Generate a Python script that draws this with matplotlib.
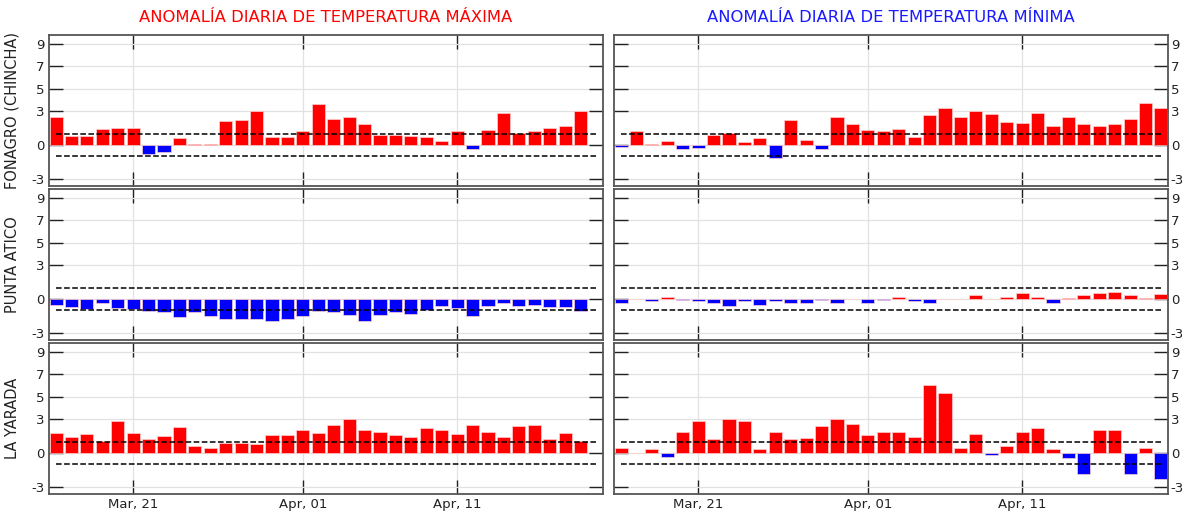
import matplotlib
matplotlib.use("Agg")
import matplotlib.pyplot as plt
import matplotlib.dates as mdates
import numpy as np
import pandas as pd

plt.rcParams["axes.unicode_minus"] = False

# Data (daily anomalies, degC)
dates = pd.date_range("2024-03-16", "2024-04-20", freq="D")
stations = ["FONAGRO (CHINCHA)", "PUNTA ATICO", "LA YARADA"]

# max temperature anomaly (last day not available)
tmax_fonagro = [2.52, 0.84, 0.84, 1.44, 1.53, 1.53, -0.84, -0.63, 0.63, 0.09, 0.09, 2.13,
                2.25, 3.06, 0.72, 0.72, 1.26, 3.66, 2.31, 2.46, 1.86, 0.93, 0.93, 0.84,
                0.72, 0.33, 1.26, -0.36, 1.32, 2.88, 1.11, 1.26, 1.53, 1.71, 3.06]
tmax_atico = [-0.57, -0.72, -0.90, -0.39, -0.78, -0.90, -1.11, -1.20, -1.59, -1.20, -1.53, -1.74,
              -1.74, -1.74, -1.92, -1.74, -1.53, -1.11, -1.20, -1.38, -1.92, -1.38, -1.20, -1.32,
              -0.99, -0.60, -0.78, -1.53, -0.60, -0.39, -0.60, -0.51, -0.72, -0.72, -1.11]
tmax_yarada = [1.80, 1.41, 1.68, 1.11, 2.88, 1.80, 1.26, 1.50, 2.28, 0.66, 0.42, 0.87,
               0.87, 0.81, 1.59, 1.59, 2.01, 1.80, 2.49, 3.06, 2.07, 1.89, 1.62, 1.47,
               2.22, 2.01, 1.68, 2.49, 1.89, 1.41, 2.43, 2.49, 1.29, 1.80, 1.08]

# min temperature anomaly
tmin_fonagro = [-0.15, 1.26, 0.06, 0.33, -0.36, -0.24, 0.93, 1.11, 0.24, 0.63, -1.17, 2.25,
                0.45, -0.36, 2.46, 1.86, 1.32, 1.26, 1.44, 0.72, 2.67, 3.33, 2.46, 3.06,
                2.73, 2.07, 1.92, 2.88, 1.65, 2.52, 1.86, 1.71, 1.86, 2.31, 3.75, 3.27]
tmin_atico = [-0.39, 0.03, -0.15, 0.21, -0.12, -0.21, -0.39, -0.60, -0.18, -0.51, -0.18, -0.33,
              -0.33, -0.12, -0.33, 0.03, -0.33, -0.12, 0.21, -0.18, -0.33, 0.03, 0.03, 0.33,
              0.03, 0.21, 0.54, 0.21, -0.33, 0.12, 0.33, 0.54, 0.60, 0.33, 0.12, 0.42]
tmin_yarada = [0.45, 0.03, 0.39, -0.39, 1.86, 2.82, 1.26, 3.06, 2.82, 0.39, 1.86, 1.23,
               1.38, 2.40, 3.06, 2.61, 1.59, 1.86, 1.86, 1.47, 6.03, 5.31, 0.45, 1.68,
               -0.21, 0.60, 1.86, 2.22, 0.39, -0.48, -1.83, 2.07, 2.07, -1.83, 0.45, -2.28]

tmax = [tmax_fonagro, tmax_atico, tmax_yarada]
tmin = [tmin_fonagro, tmin_atico, tmin_yarada]
yticks = [-3, 0, 3, 5, 7, 9]
xticks = pd.to_datetime(["2024-03-21", "2024-04-01", "2024-04-11"])

W, H = 1183, 512
fig = plt.figure(figsize=(W / 100, H / 100), dpi=100)

col_x = [49, 614]
col_w = 554
row_top = [35, 189, 343]
row_h = 151

SPINE = "#555555"
TXT = "#222222"


def style_axis(ax, right_labels, bottom_labels):
    ax.set_ylim(-3.65, 9.8)
    ax.set_xlim(dates[0] - pd.Timedelta(hours=11), dates[-1] + pd.Timedelta(hours=11))
    ax.set_yticks(yticks)
    ax.set_xticks(xticks)
    ax.xaxis.set_major_formatter(mdates.DateFormatter("%b, %d"))
    ax.grid(True, color="#e2e2e2", linewidth=0.9, zorder=0)
    ax.set_axisbelow(True)
    ax.tick_params(axis="both", direction="in", length=10, width=1.0, color="#222222",
                   labelsize=9.5, labelcolor=TXT, top=True, bottom=True, left=True, right=True,
                   labelleft=not right_labels, labelright=right_labels,
                   labelbottom=bottom_labels, pad=3)
    if right_labels:
        ax.tick_params(axis="y", pad=2)
    for sp in ax.spines.values():
        sp.set_color(SPINE)
        sp.set_linewidth(1.3)


for i in range(3):
    for j in range(2):
        ax = fig.add_axes([col_x[j] / W, 1 - (row_top[i] + row_h) / H, col_w / W, row_h / H])
        if j == 0:
            vals = np.array(tmax[i])
        else:
            vals = np.array(tmin[i])
        d = dates[:len(vals)]
        colors = ["#ff0000" if v >= 0 else "#0000ff" for v in vals]
        ax.bar(d, vals, width=0.85, color=colors, edgecolor="#ffd0d0", linewidth=0.5, zorder=2)
        ax.hlines([1, -1], dates[0], dates[-1], colors="black", linestyles="--",
                  linewidth=1.1, zorder=3)
        style_axis(ax, right_labels=(j == 1), bottom_labels=(i == 2))
        if j == 0:
            ax.set_ylabel(stations[i], fontsize=10.5, color=TXT)
            ax.yaxis.set_label_coords(-0.053, 0.5)
        if i == 0:
            if j == 0:
                ax.set_title("ANOMALÍA DIARIA DE TEMPERATURA MÁXIMA", color="#ff0000",
                             fontsize=11.8, pad=9)
            else:
                ax.set_title("ANOMALÍA DIARIA DE TEMPERATURA MÍNIMA", color="#1a1aff",
                             fontsize=11.8, pad=9)

fig.savefig("out.png", dpi=100)
